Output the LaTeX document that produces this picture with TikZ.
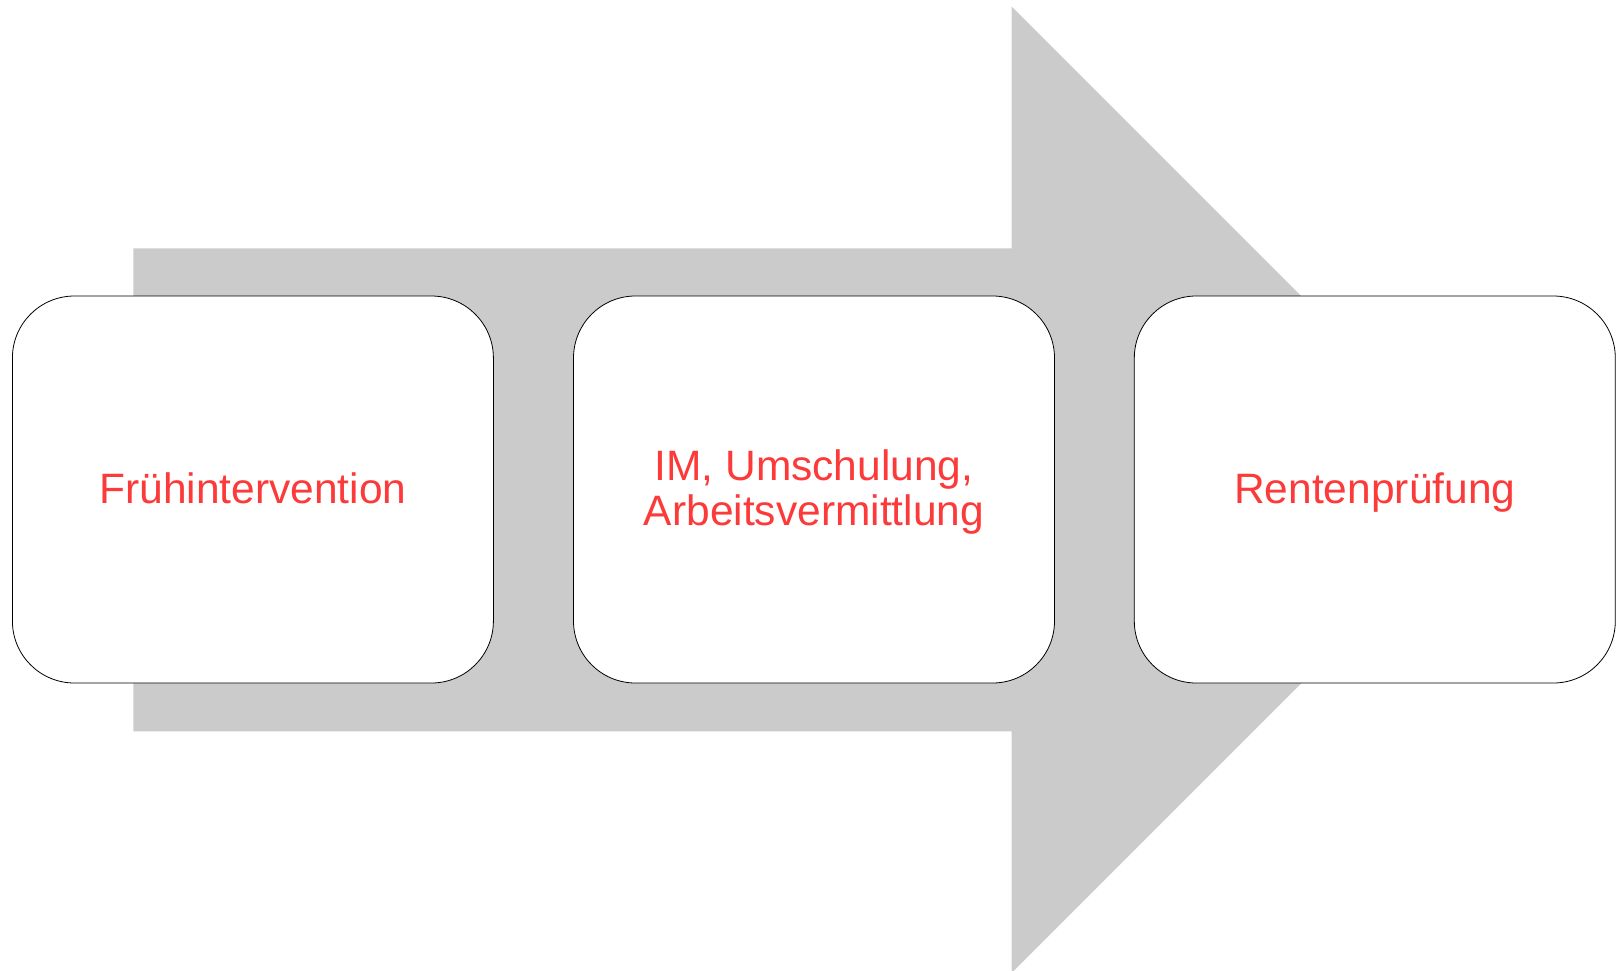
\documentclass[tikz,border=0pt]{standalone}
\usepackage{fontspec}
\setmainfont{Liberation Sans}
\definecolor{arrowgray}{RGB}{203,203,203}
\definecolor{textred}{RGB}{252,58,58}
\newcommand{\linestrut}{\rule[-9pt]{0pt}{45pt}}
\begin{document}
\begin{tikzpicture}[x=1pt,y=-1pt,
  stagebox/.style={draw=black, line width=0.8pt, fill=white, rounded corners=62pt,
    minimum width=481pt, minimum height=387pt, inner sep=0pt, align=center,
    text=textred, font=\fontsize{42.5}{45}\selectfont}]
\useasboundingbox (0,0) rectangle (1622,970);
\fill[arrowgray] (133.3,248.3) -- (1011.7,248.3) -- (1011.7,6.7) -- (1495,489.8)
  -- (1011.7,972.9) -- (1011.7,731.3) -- (133.3,731.3) -- cycle;
\node[stagebox] (b1) at (252.9,489.5) {\linestrut Frühintervention};
\node[stagebox] (b2) at (814,489.5) {\linestrut IM, Umschulung,\\\linestrut Arbeitsvermittlung};
\node[stagebox] (b3) at (1374.8,489.5) {\linestrut Rentenprüfung};
\end{tikzpicture}
\end{document}
